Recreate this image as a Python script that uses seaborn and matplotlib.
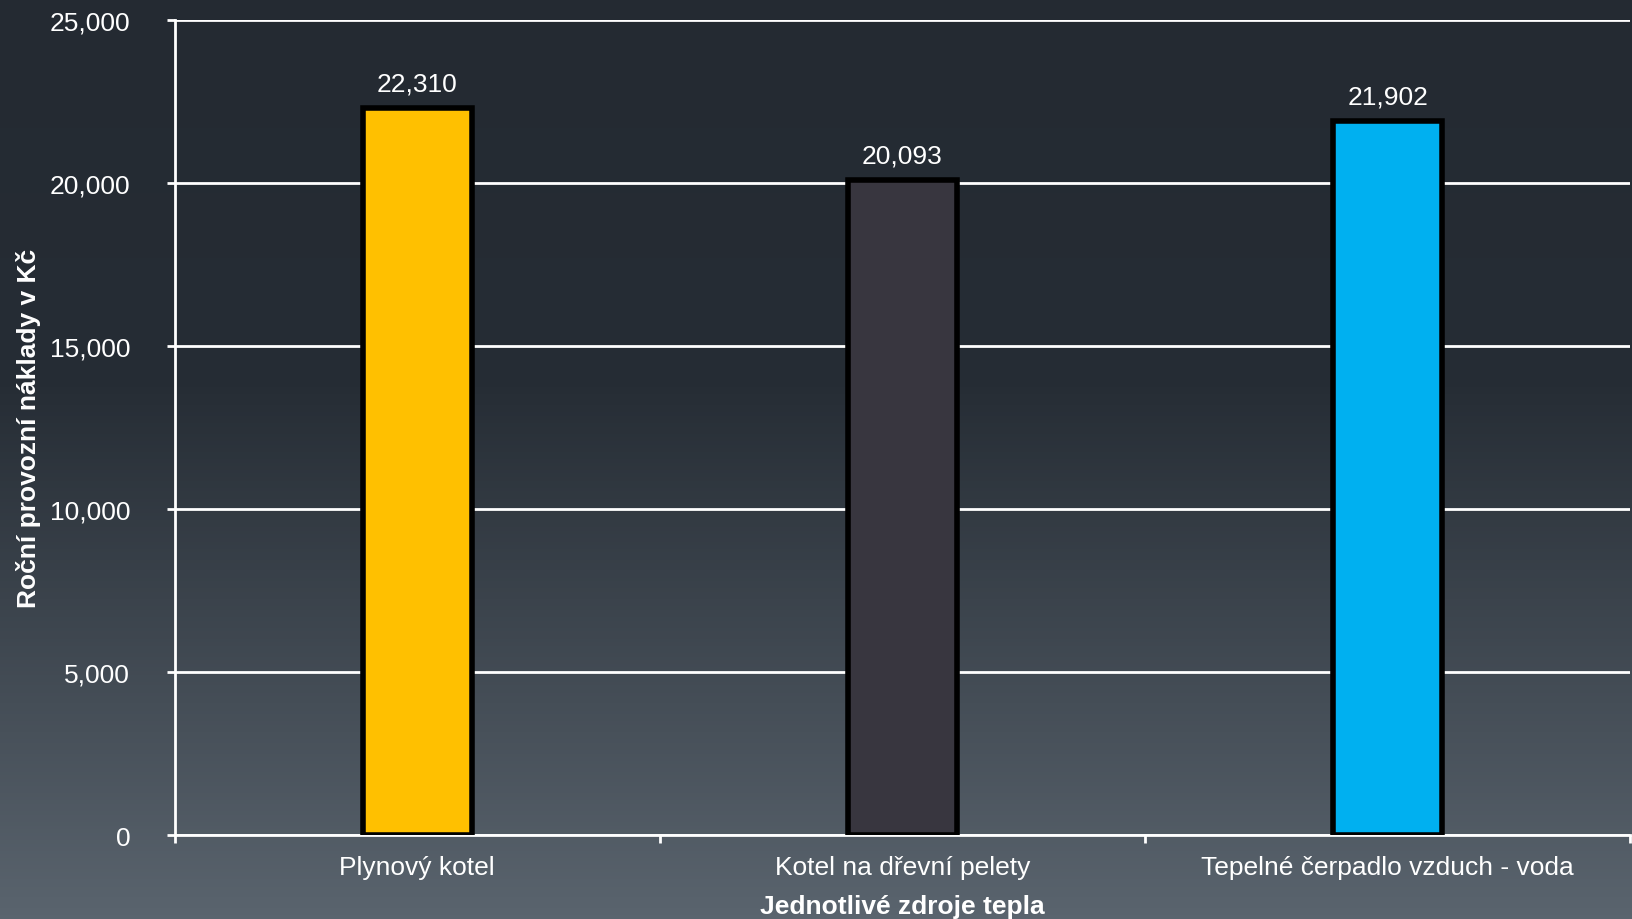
import numpy as np
import matplotlib.pyplot as plt
import matplotlib.colors as mcolors
from matplotlib.ticker import FuncFormatter, MultipleLocator
import seaborn as sns
import pandas as pd

categories = ['Plynový kotel', 'Kotel na dřevní pelety', 'Tepelné čerpadlo vzduch - voda']
costs = [22310, 20093, 21902]
bar_colors = ['#FFC000', '#38363F', '#00B0F0']

df = pd.DataFrame({'zdroj': categories, 'naklady': costs})

sns.set_style('white')
plt.rcParams['font.family'] = ['Liberation Sans', 'DejaVu Sans']

fig = plt.figure(figsize=(16.32, 9.2), dpi=100)

# gradient background over the whole figure
bg = fig.add_axes([0, 0, 1, 1], zorder=-10)
cmap = mcolors.LinearSegmentedColormap.from_list(
    'bg', [(0.0, '#242a32'), (0.42, '#262d35'), (1.0, '#5a646e')])
grad = np.linspace(0, 1, 256).reshape(-1, 1)
bg.imshow(grad, aspect='auto', cmap=cmap, extent=[0, 1, 1, 0])
bg.set_axis_off()

ax = fig.add_axes([0.107, 0.091, 0.892, 0.886])
ax.set_facecolor('none')

sns.barplot(data=df, x='zdroj', y='naklady', hue='zdroj', palette=bar_colors,
            saturation=1, width=0.224, edgecolor='black', linewidth=4,
            legend=False, ax=ax, zorder=3)

for i, v in enumerate(costs):
    ax.text(i, v + 380, f'{v:,}', ha='center', va='bottom', color='white',
            fontsize=19)

ax.set_ylim(0, 25000)
ax.set_xlim(-0.5, 2.5)
ax.yaxis.set_major_locator(MultipleLocator(5000))
ax.yaxis.set_major_formatter(FuncFormatter(lambda v, p: f'{int(v):,}'))
ax.grid(axis='y', color='white', linewidth=2, zorder=0)
ax.set_axisbelow(True)

for s in ['top', 'right']:
    ax.spines[s].set_visible(False)
for s in ['left', 'bottom']:
    ax.spines[s].set_color('white')
    ax.spines[s].set_linewidth(2)

ax.set_xticks([-0.5, 0.5, 1.5, 2.5], minor=True)
ax.tick_params(axis='x', which='major', bottom=True, length=0, pad=14,
               labelsize=19, labelcolor='white')
ax.tick_params(axis='x', which='minor', bottom=True, length=6, width=2,
               color='white')
ax.tick_params(axis='y', left=True, length=6, width=2, color='white', pad=26,
               labelsize=19, labelcolor='white')

ax.set_xlabel('Jednotlivé zdroje tepla', fontsize=19, fontweight='bold',
              color='white', labelpad=11)
ax.set_ylabel('Roční provozní náklady v Kč', fontsize=19, fontweight='bold',
              color='white', labelpad=6)

fig.savefig('out.png', dpi=100)
